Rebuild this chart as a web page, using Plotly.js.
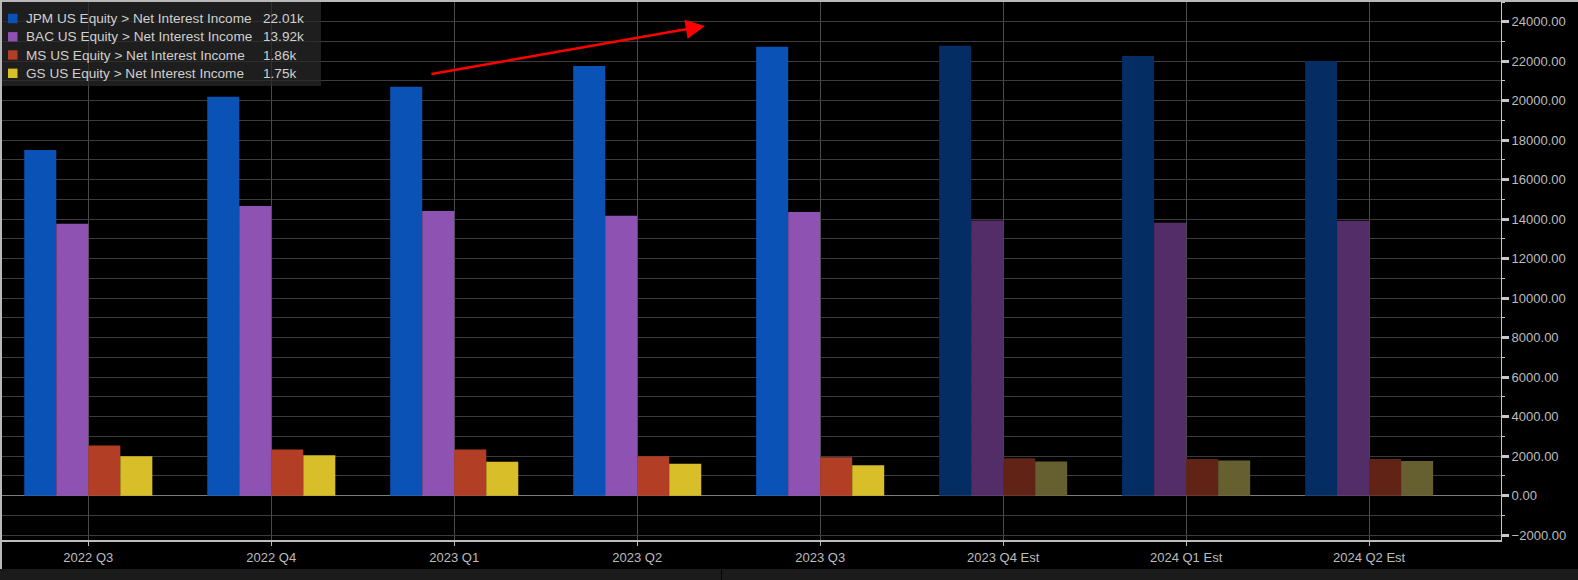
<!DOCTYPE html>
<html>
<head>
<meta charset="utf-8">
<script src="https://cdn.plot.ly/plotly-3.0.1.min.js"></script>
<style>
  html, body { margin: 0; padding: 0; background: #000; }
  #chart { width: 1578px; height: 580px; }
</style>
</head>
<body>
<div id="chart"></div>
<script>
// ---------- data ----------
const categories = ['2022 Q3', '2022 Q4', '2023 Q1', '2023 Q2', '2023 Q3', '2023 Q4 Est', '2024 Q1 Est', '2024 Q2 Est'];
const jpmValues = [17510, 20200, 20710, 21760, 22730, 22780, 22270, 22010];
const bacValues = [13770, 14670, 14420, 14170, 14370, 13930, 13820, 13920];
const msValues  = [2540, 2340, 2340, 2000, 1950, 1900, 1850, 1860];
const gsValues  = [2000, 2050, 1720, 1620, 1540, 1730, 1780, 1750];
const seriesNames = [
  'JPM US Equity > Net Interest Income',
  'BAC US Equity > Net Interest Income',
  'MS US Equity > Net Interest Income',
  'GS US Equity > Net Interest Income'
];
const yTickVals = [-2000, 0, 2000, 4000, 6000, 8000, 10000, 12000, 14000, 16000, 18000, 20000, 22000, 24000];

// ---------- styles ----------
const actualColors = ['#0b52b7', '#8e52b2', '#b23e26', '#d8be28'];
const estColors    = ['#032d63', '#532d68', '#612315', '#666030'];
const allValues = [jpmValues, bacValues, msValues, gsValues];

const W = 1578, H = 580;
const M = {l: 2, r: 77, t: 2, b: 40};
const PW = W - M.l - M.r, PH = H - M.t - M.b;
const px = x => (x - M.l) / PW;
const py = y => (H - M.b - y) / PH;

const traces = allValues.map((vals, i) => ({
  type: 'bar',
  name: seriesNames[i],
  x: categories,
  y: vals,
  marker: {
    color: categories.map(c => c.indexOf('Est') >= 0 ? estColors[i] : actualColors[i]),
    line: {width: 0}
  },
  hoverinfo: 'x+y+name'
}));

// custom legend (box, swatches, labels, last values)
const shapes = [];
const annotations = [];
shapes.push({type: 'rect', xref: 'paper', yref: 'paper', layer: 'above',
  x0: px(2), x1: px(321), y0: py(86), y1: py(2),
  fillcolor: 'rgba(42,42,42,0.72)', line: {width: 0}});
const rowY = [18.5, 36.8, 55, 73.3];
allValues.forEach((vals, i) => {
  shapes.push({type: 'rect', xref: 'paper', yref: 'paper', layer: 'above',
    x0: px(8), x1: px(17.5), y0: py(rowY[i] + 4.7), y1: py(rowY[i] - 4.7),
    fillcolor: actualColors[i], line: {width: 0}});
  annotations.push({xref: 'paper', yref: 'paper', x: px(24), y: py(rowY[i]),
    xanchor: 'left', yanchor: 'middle', showarrow: false, text: seriesNames[i],
    font: {family: 'Liberation Sans, Arial, sans-serif', size: 13.6, color: '#cfcfcf'}});
  const last = vals[vals.length - 1];
  annotations.push({xref: 'paper', yref: 'paper', x: px(261), y: py(rowY[i]),
    xanchor: 'left', yanchor: 'middle', showarrow: false,
    text: (last / 1000).toFixed(2) + 'k',
    font: {family: 'Liberation Sans, Arial, sans-serif', size: 13.6, color: '#cfcfcf'}});
});

// red trend arrow
annotations.push({
  xref: 'x', yref: 'y', axref: 'x', ayref: 'y',
  x: 3.37, y: 23790, ax: 1.867, ay: 21340,
  text: '', showarrow: true, arrowhead: 2, arrowsize: 1.6, arrowwidth: 2.4,
  arrowcolor: '#ff0000', standoff: 0, startstandoff: 0
});

// frame borders and bottom strip
shapes.push({type: 'rect', xref: 'paper', yref: 'paper', layer: 'above',
  x0: px(0), x1: px(W), y0: py(2), y1: py(0), fillcolor: '#b9b9b9', line: {width: 0}});
shapes.push({type: 'rect', xref: 'paper', yref: 'paper', layer: 'above',
  x0: px(0), x1: px(2), y0: py(569), y1: py(0), fillcolor: '#b9b9b9', line: {width: 0}});
shapes.push({type: 'rect', xref: 'paper', yref: 'paper', layer: 'above',
  x0: px(0), x1: px(W), y0: py(H), y1: py(569), fillcolor: '#1b1b1b', line: {width: 0}});
shapes.push({type: 'line', xref: 'paper', yref: 'paper', layer: 'above',
  x0: px(721.5), x1: px(721.5), y0: py(H), y1: py(569), line: {color: '#050505', width: 1}});

const x0px = 88.3, stepPx = 182.97;
const xRange = [(M.l - x0px) / stepPx, (W - M.r - x0px) / stepPx];

const layout = {
  width: W, height: H,
  margin: M,
  paper_bgcolor: '#000000',
  plot_bgcolor: '#000000',
  showlegend: false,
  barmode: 'group',
  bargap: 0.3,
  bargroupgap: 0,
  font: {family: 'Liberation Sans, Arial, sans-serif', size: 13, color: '#bdbdbd'},
  xaxis: {
    type: 'category',
    range: xRange,
    showgrid: true, gridcolor: '#4a4a4a', gridwidth: 1,
    showline: true, linecolor: '#bdbdbd', linewidth: 2,
    ticks: 'outside', ticklen: 4, tickcolor: '#bdbdbd', tickwidth: 1,
    tickfont: {family: 'Liberation Sans, Arial, sans-serif', size: 13, color: '#bdbdbd'},
    zeroline: false, fixedrange: true
  },
  yaxis: {
    side: 'right',
    range: [-2246, 25000],
    tickvals: yTickVals,
    tickformat: '.2f',
    showgrid: true, gridcolor: '#3c3c3c', gridwidth: 1,
    zeroline: true, zerolinecolor: '#7c7c7c', zerolinewidth: 1,
    showline: true, linecolor: '#c8c8c8', linewidth: 1,
    ticks: 'outside', ticklen: 7, tickwidth: 3, tickcolor: '#c8c8c8',
    minor: {dtick: 1000, tick0: 0, ticks: 'outside', ticklen: 3, tickcolor: '#c8c8c8', tickwidth: 1,
            showgrid: true, gridcolor: '#3c3c3c', gridwidth: 1},
    tickfont: {family: 'Liberation Sans, Arial, sans-serif', size: 13, color: '#bdbdbd'},
    fixedrange: true
  },
  shapes: shapes,
  annotations: annotations
};

Plotly.newPlot('chart', traces, layout, {displayModeBar: false, staticPlot: false});
</script>
</body>
</html>
